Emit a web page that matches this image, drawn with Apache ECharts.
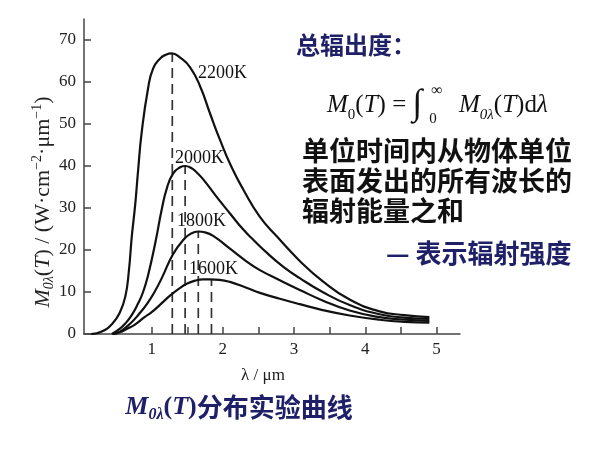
<!DOCTYPE html>
<html>
<head>
<meta charset="utf-8">
<title>M0λ(T) 分布实验曲线</title>
<script src="https://cdn.jsdelivr.net/npm/echarts@6/dist/echarts.min.js"></script>
<style>
html, body { margin: 0; padding: 0; background: #fff; }
#main { width: 600px; height: 449px; }
</style>
</head>
<body>
<div id="main"></div>
<script>
// 波长 (μm) 与 单色辐出度 读数
var lam2200 = [0.15, 0.30, 0.45, 0.55, 0.63, 0.68, 0.72, 0.77, 0.81, 0.86, 0.95, 1.02, 1.12, 1.20, 1.28, 1.40, 1.54, 1.68, 1.82, 1.96, 2.12, 2.29, 2.52, 2.76, 3.08, 3.40, 3.78, 4.20, 4.55, 4.90];
var m2200   = [0, 0.6, 2.5, 5.0, 8.9, 15, 23, 31, 39, 48, 58.5, 63.2, 65.6, 66.5, 66.8, 65.8, 63.5, 59, 52.5, 46.2, 39.8, 34.3, 27.9, 23.2, 17.4, 12.6, 8.2, 5.4, 4.5, 4.0];

var lam2000 = [0.44, 0.55, 0.63, 0.72, 0.81, 0.88, 0.95, 1.05, 1.14, 1.21, 1.30, 1.40, 1.47, 1.55, 1.63, 1.73, 1.91, 2.10, 2.29, 2.43, 2.62, 2.85, 3.08, 3.40, 3.78, 4.20, 4.55, 4.90];
var m2000   = [0, 1.2, 2.5, 4.5, 7.3, 10, 14, 21.6, 29.5, 34.5, 38.2, 39.7, 40, 39.6, 38.5, 36.7, 32.7, 28.7, 24.8, 22.4, 19.3, 16, 13.3, 10, 6.9, 4.7, 3.9, 3.6];

var lam1800 = [0.46, 0.55, 0.70, 0.82, 0.94, 1.05, 1.15, 1.30, 1.45, 1.55, 1.655, 1.75, 1.87, 2.10, 2.33, 2.52, 2.80, 3.08, 3.40, 3.78, 4.20, 4.55, 4.90];
var m1800   = [0, 0.5, 2.5, 4.7, 7.3, 10.3, 13.6, 19, 22.5, 23.9, 24.4, 24.2, 23.3, 20.3, 17.3, 15.2, 12.8, 10.5, 8.0, 5.6, 4.0, 3.4, 3.1];

var lam1600 = [0.46, 0.55, 0.65, 0.77, 0.90, 1.00, 1.12, 1.27, 1.40, 1.50, 1.61, 1.72, 1.82, 1.95, 2.10, 2.33, 2.52, 2.80, 3.08, 3.40, 3.78, 4.20, 4.55, 4.90];
var m1600   = [0, 0.4, 1.2, 2.3, 4.0, 5.2, 7.0, 9.3, 11.0, 12.0, 12.7, 13.0, 13.0, 12.9, 12.4, 11.0, 9.8, 8.4, 7.1, 5.7, 4.4, 3.4, 2.9, 2.7];

// 峰值位置 (虚线)
var peakLam = [1.29, 1.47, 1.655, 1.84];
var peakVal = [66.8, 40, 24.4, 13.0];

var xTicks = [1, 1.5, 2, 2.5, 3, 3.5, 4, 4.5, 5];
var xLabels = [1, 2, 3, 4, 5];
var yTicks = [0, 10, 20, 30, 40, 50, 60, 70];

var navy = '#1f2068';
var serif = '"Liberation Serif", "DejaVu Serif", serif';
var cjk = '"Noto Sans CJK SC", sans-serif';

function pairs(xs, ys) {
    return xs.map(function (x, i) { return [x, ys[i]]; });
}

function curve(name, xs, ys) {
    return {
        name: name,
        type: 'line',
        data: pairs(xs, ys),
        smooth: 0.5,
        symbol: 'none',
        lineStyle: { color: '#111', width: 2.2 },
        z: 3
    };
}

var series = [
    curve('2200K', lam2200, m2200),
    curve('2000K', lam2000, m2000),
    curve('1800K', lam1800, m1800),
    curve('1600K', lam1600, m1600)
];

peakLam.forEach(function (x, i) {
    series.push({
        type: 'line',
        data: [[x, 0], [x, peakVal[i]]],
        symbol: 'none',
        lineStyle: { color: '#333', width: 1.7, type: [10, 6] },
        z: 2
    });
});

var chart = echarts.init(document.getElementById('main'));

var option = {
    backgroundColor: '#fff',
    animation: false,
    grid: { left: 84, right: 140, top: 19, bottom: 115 },
    xAxis: {
        type: 'value',
        min: 0.05,
        max: 5.33,
        axisLine: { lineStyle: { color: '#444', width: 1.5 } },
        axisTick: { inside: true, length: 7, customValues: xTicks, lineStyle: { color: '#444', width: 1.5 } },
        axisLabel: { customValues: xLabels, margin: 7, color: '#222', fontSize: 17, fontFamily: serif },
        splitLine: { show: false }
    },
    yAxis: {
        type: 'value',
        min: 0,
        max: 75,
        axisLine: { show: true, lineStyle: { color: '#444', width: 1.5 } },
        axisTick: { show: true, inside: true, length: 7, customValues: yTicks, lineStyle: { color: '#444', width: 1.5 } },
        axisLabel: { customValues: yTicks, margin: 8, color: '#222', fontSize: 17, fontFamily: serif },
        splitLine: { show: false }
    },
    series: series,
    graphic: [
        // 曲线标注
        { type: 'text', left: 198, top: 64, style: { text: '2200K', font: '18px ' + serif, fill: '#111' } },
        { type: 'text', left: 175, top: 149, style: { text: '2000K', font: '18px ' + serif, fill: '#111' } },
        { type: 'text', left: 177, top: 212, style: { text: '1800K', font: '18px ' + serif, fill: '#111' } },
        { type: 'text', left: 189, top: 260, style: { text: '1600K', font: '18px ' + serif, fill: '#111' } },

        // 纵轴名
        {
            type: 'text', x: 43, y: 202, rotation: Math.PI / 2,
            style: {
                text: '{mi|M}{sub|0λ}{n|(}{mi|T}{n|) / (W·cm}{sup|−2}{n|·μm}{sup|−1}{n|)}',
                align: 'center', verticalAlign: 'middle', fill: '#222',
                rich: {
                    mi: { fontFamily: serif, fontStyle: 'italic', fontSize: 22, lineHeight: 26 },
                    n: { fontFamily: serif, fontSize: 22, lineHeight: 26 },
                    sub: { fontFamily: serif, fontStyle: 'italic', fontSize: 14, lineHeight: 26, verticalAlign: 'bottom' },
                    sup: { fontFamily: serif, fontSize: 14, lineHeight: 26, verticalAlign: 'top' }
                }
            }
        },

        // 横轴名
        { type: 'text', x: 263, y: 376, style: { text: 'λ / μm', font: '17px ' + serif, fill: '#222', align: 'center', verticalAlign: 'middle' } },

        // 图题
        {
            type: 'text', x: 239, y: 407,
            style: {
                text: '{mb|M}{sb|0λ}{pb|(}{mb|T}{pb|)}{cn|分布实验曲线}',
                align: 'center', verticalAlign: 'middle', fill: navy,
                rich: {
                    mb: { fontFamily: serif, fontStyle: 'italic', fontWeight: 'bold', fontSize: 26, lineHeight: 32 },
                    pb: { fontFamily: serif, fontWeight: 'bold', fontSize: 26, lineHeight: 32 },
                    sb: { fontFamily: serif, fontStyle: 'italic', fontWeight: 'bold', fontSize: 16, lineHeight: 32, verticalAlign: 'bottom' },
                    cn: { fontFamily: cjk, fontWeight: 'bold', fontSize: 26, lineHeight: 32 }
                }
            }
        },

        // 右侧说明
        { type: 'text', left: 296, top: 33, style: { text: '总辐出度：', font: 'bold 24px ' + cjk, fill: navy } },
        {
            type: 'text', x: 327, y: 105,
            style: {
                text: '{mi|M}{sub|0}{n|(}{mi|T}{n|) = }{int|∫}',
                align: 'left', verticalAlign: 'middle', fill: '#111',
                rich: {
                    mi: { fontFamily: serif, fontStyle: 'italic', fontSize: 25, lineHeight: 36 },
                    n: { fontFamily: serif, fontSize: 25, lineHeight: 36 },
                    sub: { fontFamily: serif, fontSize: 15, lineHeight: 32, verticalAlign: 'bottom' },
                    int: { fontFamily: serif, fontSize: 36, lineHeight: 36 }
                }
            }
        },
        { type: 'text', x: 437, y: 91, style: { text: '∞', font: '16px ' + serif, fill: '#111', align: 'center', verticalAlign: 'middle' } },
        { type: 'text', x: 433, y: 119, style: { text: '0', font: '15px ' + serif, fill: '#111', align: 'center', verticalAlign: 'middle' } },
        {
            type: 'text', x: 459, y: 105,
            style: {
                text: '{mi|M}{sub|0λ}{n|(}{mi|T}{n|)d}{mi|λ}',
                align: 'left', verticalAlign: 'middle', fill: '#111',
                rich: {
                    mi: { fontFamily: serif, fontStyle: 'italic', fontSize: 25, lineHeight: 36 },
                    n: { fontFamily: serif, fontSize: 25, lineHeight: 36 },
                    sub: { fontFamily: serif, fontStyle: 'italic', fontSize: 15, lineHeight: 32, verticalAlign: 'bottom' }
                }
            }
        },
        {
            type: 'text', left: 302, top: 136,
            style: {
                text: '单位时间内从物体单位\n表面发出的所有波长的\n辐射能量之和',
                font: 'bold 27px ' + cjk, lineHeight: 30, fill: '#111'
            }
        },
        { type: 'text', left: 386, top: 240, style: { text: '— 表示辐射强度', font: 'bold 26px ' + cjk, fill: navy } }
    ]
};

chart.setOption(option);
</script>
</body>
</html>
